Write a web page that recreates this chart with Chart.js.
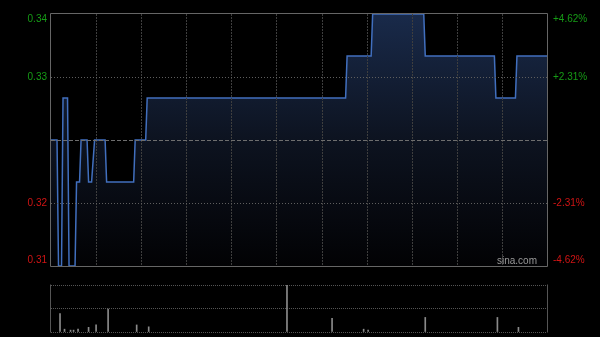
<!DOCTYPE html>
<html>
<head>
<meta charset="utf-8">
<script src="https://cdn.jsdelivr.net/npm/chart.js@4.4.0/dist/chart.umd.min.js"></script>
<style>
  html, body { margin: 0; padding: 0; background: #000; }
  #wrap { position: relative; width: 600px; height: 337px; }
  #wrap canvas { position: absolute; left: 0; top: 0; }
</style>
</head>
<body>
<div id="wrap">
  <canvas id="priceChart" width="600" height="337"></canvas>
  <canvas id="volChart" width="600" height="337"></canvas>
</div>
<script>
// minutes since open (09:30, 330 trading minutes) where the price changes
const minutes = [0, 4, 5, 7, 8, 11, 12, 16, 17, 19, 20, 24, 25, 27, 29, 36, 37, 55, 56, 63, 64, 196, 197, 213, 214, 248, 249, 295, 296, 309, 310, 330];
const prices = [0.325, 0.325, 0.31, 0.31, 0.33, 0.33, 0.31, 0.31, 0.32, 0.32, 0.325, 0.325, 0.32, 0.32, 0.325, 0.325, 0.32, 0.32, 0.325, 0.325,
                0.33, 0.33, 0.335, 0.335, 0.34, 0.34, 0.335, 0.335, 0.33, 0.33, 0.335, 0.335];
const prevClose = 0.325;

// tick values and labels of the price axis
const priceTicks = [0.34, 0.3325, 0.325, 0.3175, 0.31];
const leftLabels = ['0.34', '0.33', '', '0.32', '0.31'];
const rightLabels = ['+4.62%', '+2.31%', '', '-2.31%', '-4.62%'];

// volume bars (relative to the biggest one)
const volMinutes = [6, 9, 13, 15, 18, 25, 30, 38, 57, 65, 157, 187, 208, 211, 249, 297, 311];
const volValues = [39, 6, 4, 4, 6, 10, 15, 49, 15, 11, 100, 29, 6, 4, 31, 31, 10];

const UP = '#169c16';
const DOWN = '#d01414';

// border just outside the plot area
function frame(color, sides) {
    return {
        id: 'frame',
        afterDraw(chart) {
            const a = chart.chartArea;
            const c = chart.ctx;
            c.save();
            c.strokeStyle = color;
            c.lineWidth = 1;
            c.beginPath();
            const l = Math.round(a.left) - 0.5, r = Math.round(a.right) + 0.5;
            const t = Math.round(a.top) - 0.5, b = Math.round(a.bottom) + 0.5;
            if (sides.includes('l')) { c.moveTo(l, t); c.lineTo(l, b); }
            if (sides.includes('r')) { c.moveTo(r, t); c.lineTo(r, b); }
            if (sides.includes('t')) { c.moveTo(l, t); c.lineTo(r, t); }
            if (sides.includes('b')) { c.moveTo(l, b); c.lineTo(r, b); }
            c.stroke();
            c.restore();
        }
    };
}

// grid lines drawn over the filled area, as in the original
const overGrid = {
    id: 'overGrid',
    afterDatasetsDraw(chart) {
        const a = chart.chartArea;
        const c = chart.ctx;
        const xs = chart.scales.x, ys = chart.scales.y;
        c.save();
        c.lineWidth = 1;
        xs.ticks.forEach(t => {
            if (t.value <= xs.min || t.value >= xs.max) return;
            const px = Math.round(xs.getPixelForValue(t.value)) + 0.5;
            c.strokeStyle = '#3e3e3e';
            c.setLineDash([2, 1]);
            c.beginPath(); c.moveTo(px, a.top); c.lineTo(px, a.bottom); c.stroke();
        });
        ys.ticks.forEach(t => {
            if (t.value <= ys.min || t.value >= ys.max) return;
            const py = Math.round(ys.getPixelForValue(t.value)) + 0.5;
            if (t.value === prevClose) {
                c.strokeStyle = '#6e6e6e';
                c.setLineDash([4, 2]);
            } else {
                c.strokeStyle = '#5e5e5e';
                c.setLineDash([1, 2]);
            }
            c.beginPath(); c.moveTo(a.left, py); c.lineTo(a.right, py); c.stroke();
        });
        c.restore();
    }
};

// price labels on both sides, kept inside the plot height like the original
const sideLabels = {
    id: 'sideLabels',
    afterDraw(chart) {
        const y = chart.scales.y;
        const a = chart.chartArea;
        const c = chart.ctx;
        c.save();
        c.font = '10px "Liberation Sans", Arial, sans-serif';
        c.textBaseline = 'middle';
        priceTicks.forEach((v, i) => {
            let py = y.getPixelForValue(v);
            py = Math.max(a.top + 5, Math.min(a.bottom - 6, py));
            c.fillStyle = v > prevClose ? UP : DOWN;
            c.textAlign = 'right';
            c.fillText(leftLabels[i], a.left - 4, py);
            c.textAlign = 'left';
            c.fillText(rightLabels[i], a.right + 6, py);
        });
        c.fillStyle = '#9a9a9a';
        c.textAlign = 'right';
        c.fillText('sina.com', a.right - 10, a.bottom - 5);
        c.restore();
    }
};

new Chart(document.getElementById('priceChart'), {
    type: 'line',
    data: {
        datasets: [{
            data: minutes.map((m, i) => ({ x: m, y: prices[i] })),
            borderColor: '#416fbe',
            borderWidth: 1.5,
            pointRadius: 0,
            tension: 0,
            fill: 'start',
            backgroundColor: function (ctx) {
                const a = ctx.chart.chartArea;
                if (!a) return 'rgba(0,0,0,0)';
                const g = ctx.chart.ctx.createLinearGradient(0, a.top, 0, a.bottom);
                g.addColorStop(0, 'rgba(25,42,74,1)');
                g.addColorStop(0.5, 'rgba(13,19,32,1)');
                g.addColorStop(1, 'rgba(2,2,4,1)');
                return g;
            }
        }]
    },
    options: {
        responsive: false,
        animation: false,
        layout: { padding: { left: 51, right: 53, top: 14, bottom: 71 } },
        plugins: { legend: { display: false }, tooltip: { enabled: false } },
        scales: {
            x: {
                type: 'linear',
                min: 0,
                max: 330,
                ticks: { display: false, stepSize: 30 },
                grid: { display: false },
                border: { display: false },
                afterFit: s => { s.height = 0; }
            },
            y: {
                min: 0.31,
                max: 0.34,
                afterBuildTicks: s => { s.ticks = priceTicks.map(v => ({ value: v })); },
                ticks: { display: false },
                grid: { display: false },
                border: { display: false },
                afterFit: s => { s.width = 0; }
            }
        }
    },
    plugins: [overGrid, frame('#666666', 'lrtb'), sideLabels]
});

new Chart(document.getElementById('volChart'), {
    type: 'bar',
    data: {
        datasets: [{
            data: volMinutes.map((m, i) => ({ x: m, y: volValues[i] })),
            backgroundColor: '#8a8a8a',
            barThickness: 1
        }]
    },
    options: {
        responsive: false,
        animation: false,
        layout: { padding: { left: 51, right: 53, top: 285, bottom: 5 } },
        plugins: { legend: { display: false }, tooltip: { enabled: false } },
        scales: {
            x: {
                type: 'linear',
                offset: false,
                min: 0,
                max: 330,
                ticks: { display: false },
                grid: { display: false, offset: false },
                border: { display: false },
                afterFit: s => { s.height = 0; }
            },
            y: {
                min: 0,
                max: 100,
                ticks: { display: false, stepSize: 50 },
                grid: { drawTicks: false, color: '#555555' },
                border: { display: false, dash: [1, 1] },
                afterFit: s => { s.width = 0; }
            }
        }
    },
    plugins: [frame('#555555', 'lr')]
});
</script>
</body>
</html>
